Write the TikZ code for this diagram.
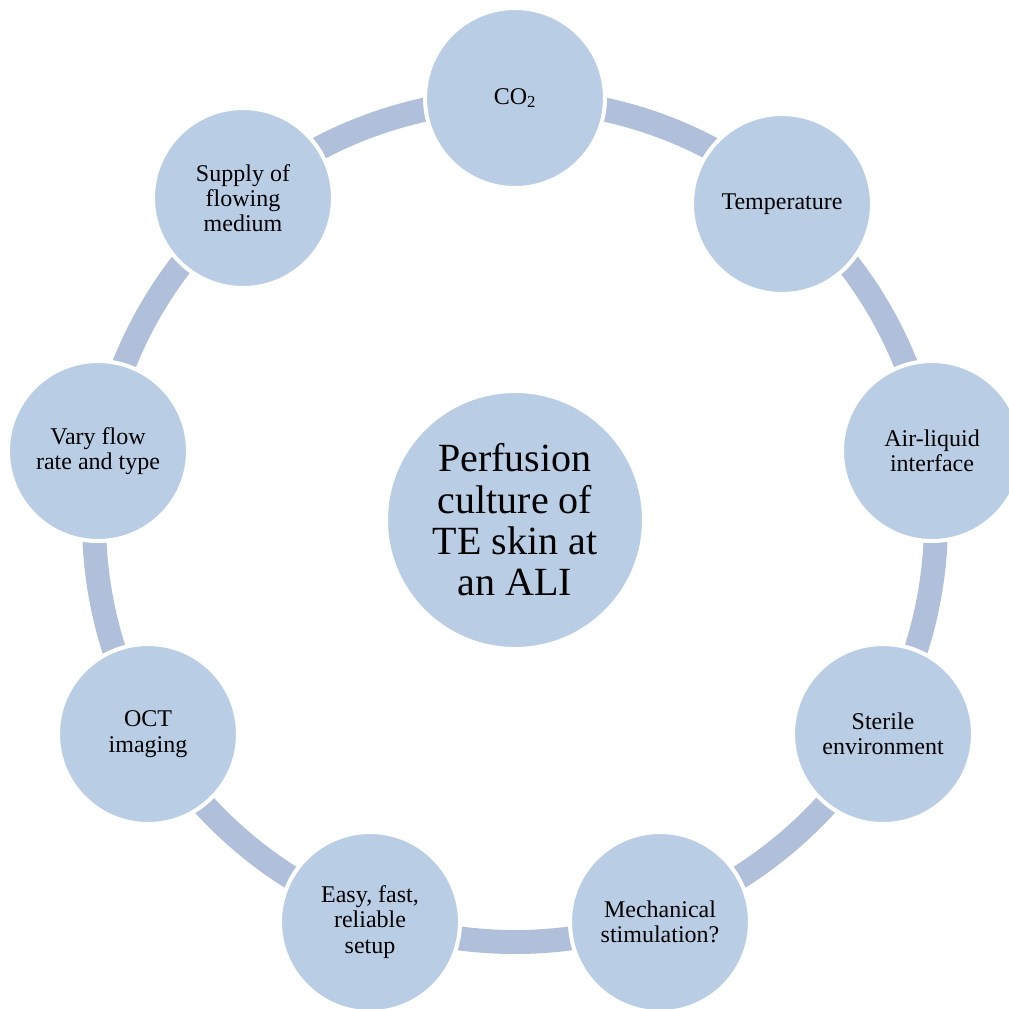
\documentclass[tikz,border=0pt]{standalone}
\usepackage{fontspec}
\setmainfont{Liberation Serif}
\definecolor{ringband}{RGB}{176,192,218}
\definecolor{bubble}{RGB}{185,205,228}
\begin{document}
\begin{tikzpicture}[x=0.75pt,y=-0.75pt,
  item/.style={circle, fill=bubble, draw=white, line width=3pt,
    minimum size=135pt, inner sep=0pt, align=center,
    font=\fontsize{18}{19}\selectfont},
  hub/.style={circle, fill=bubble, draw=white, line width=3pt,
    minimum size=193.5pt, inner sep=0pt, align=center,
    font=\fontsize{30}{31}\selectfont}]
\useasboundingbox (0,0) rectangle (1009,1008);
% the cycle ring behind the bubbles
\coordinate (c) at (515,521);
\draw[ringband, line width=18pt] (c) circle[radius=421];
% central topic
\node[hub] (hub) at (515,520) {Perfusion\\culture of\\TE skin at\\an ALI};
% requirements around the ring
\node[item] (co2)  at (515,98)  {CO\textsubscript{2}};
\node[item] (temp) at (782,204) {Temperature};
\node[item] (ali)  at (932,451) {Air-liquid\\interface};
\node[item] (ster) at (883,734) {Sterile\\environment};
\node[item] (mech) at (660,922) {Mechanical\\stimulation?};
\node[item] (easy) at (370,922) {Easy, fast,\\reliable\\setup};
\node[item] (oct)  at (148,734) {OCT\\imaging};
\node[item] (vary) at (98,451)  {Vary flow\\rate and type};
\node[item] (sup)  at (243,198) {Supply of\\flowing\\medium};
\end{tikzpicture}
\end{document}
